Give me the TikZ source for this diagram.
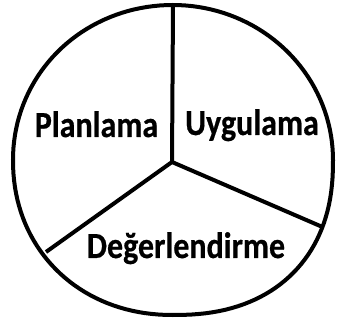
\documentclass[tikz,border=0pt]{standalone}
\usepackage{fontspec}
\usepackage{graphicx}
\newfontfamily\lblfont[FakeBold=0.6]{Carlito Bold}
\begin{document}
\begin{tikzpicture}[x=1pt,y=1pt,
  rim/.style={line width=4pt, line join=round},
  divider/.style={line width=4pt},
  label/.style={font=\fontsize{32}{36}\lblfont, anchor=base, inner sep=0pt}]
\useasboundingbox (0,0) rectangle (337,321);
\def\cx{173}\def\cy{161}
% rim: four quarter superellipses
\draw[rim]
  plot[domain=0:90, samples=40]
    ({\cx+160*pow(abs(cos(\x)),2/2.0)}, {\cy+155*pow(abs(sin(\x)),2/2.0)})
  -- plot[domain=90:180, samples=40]
    ({\cx-160*pow(abs(cos(\x)),2/2.02)}, {\cy+155*pow(abs(sin(\x)),2/2.02)})
  -- plot[domain=180:270, samples=40]
    ({\cx-160*pow(abs(cos(\x)),2/2.1)}, {\cy-155*pow(abs(sin(\x)),2/2.1)})
  -- plot[domain=270:360, samples=40]
    ({\cx+160*pow(abs(cos(\x)),2/2.3)}, {\cy-155*pow(abs(sin(\x)),2/2.3)})
  -- cycle;
\coordinate (c) at (172,159);
\coordinate (top) at (173,316);
\coordinate (right) at (322.5,94);
\coordinate (left) at (46,69);
\draw[divider, line join=round] (top) -- (c) -- (right);
\draw[divider] (c) -- (left);
\node[label] (plan) at (96.5,184) {\scalebox{1}[1.15]{Planlama}};
\node[label] (uyg) at (252,186) {\scalebox{1}[1.15]{Uygulama}};
\node[label] (deg) at (186,63) {\scalebox{1}[1.15]{Değerlendirme}};
\end{tikzpicture}
\end{document}
